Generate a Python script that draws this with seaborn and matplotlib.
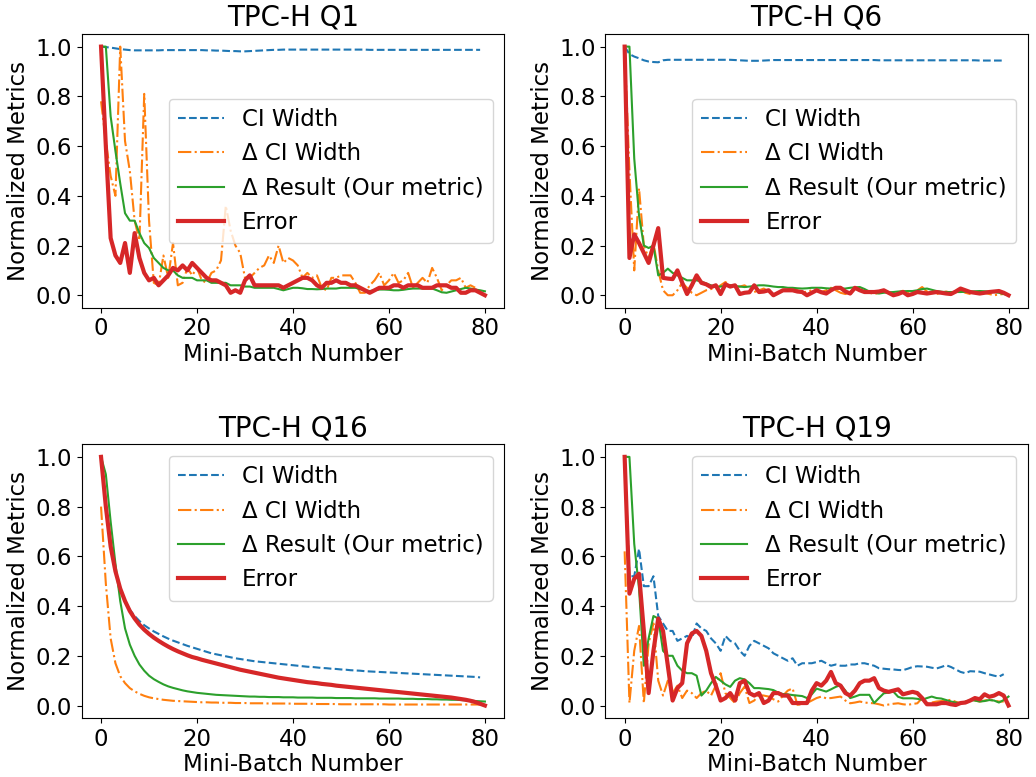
import numpy as np
import pandas as pd
import matplotlib
matplotlib.use("Agg")
import matplotlib.pyplot as plt
import seaborn as sns

# ---- data (normalized metrics per mini-batch) ----
titles = ["TPC-H Q1", "TPC-H Q6", "TPC-H Q16", "TPC-H Q19"]
labels = ["CI Width", "Δ CI Width", "Δ Result (Our metric)", "Error"]

# TPC-H Q1
q1_ci = [1.0, 0.998, 0.996, 0.993, 0.99, 0.988, 0.986, 0.985, 0.985, 0.985,
         0.985, 0.985, 0.985, 0.986, 0.986, 0.986, 0.986, 0.986, 0.986, 0.986,
         0.986, 0.986, 0.985, 0.985, 0.984, 0.984, 0.983, 0.982, 0.982, 0.981,
         0.981, 0.982, 0.983, 0.984, 0.985, 0.986, 0.987, 0.987, 0.988, 0.988,
         0.988, 0.988, 0.988, 0.988, 0.988, 0.988, 0.988, 0.988, 0.988, 0.988,
         0.988, 0.988, 0.988, 0.988, 0.988, 0.988, 0.987, 0.987, 0.987, 0.987,
         0.987, 0.987, 0.987, 0.987, 0.987, 0.987, 0.987, 0.987, 0.987, 0.987,
         0.987, 0.987, 0.987, 0.987, 0.987, 0.987, 0.987, 0.987, 0.987, 0.987]
q1_dci = [0.78, 0.62, 0.48, 0.40, 1.00, 0.62, 0.50, 0.30, 0.22, 0.81,
          0.30, 0.05, 0.04, 0.16, 0.07, 0.21, 0.04, 0.05, 0.11, 0.08,
          0.11, 0.06, 0.05, 0.09, 0.10, 0.14, 0.36, 0.26, 0.20, 0.17,
          0.07, 0.07, 0.09, 0.11, 0.12, 0.16, 0.13, 0.20, 0.13, 0.15,
          0.14, 0.12, 0.07, 0.09, 0.07, 0.08, 0.03, 0.02, 0.07, 0.07,
          0.08, 0.08, 0.08, 0.05, 0.01, 0.01, 0.04, 0.06, 0.09, 0.04,
          0.06, 0.09, 0.05, 0.06, 0.09, 0.03, 0.05, 0.07, 0.05, 0.11,
          0.07, 0.02, 0.04, 0.06, 0.06, 0.07, 0.03, 0.04, 0.03, 0.01]
q1_dres = [1.0, 1.0, 0.72, 0.58, 0.45, 0.33, 0.30, 0.30, 0.25, 0.21,
           0.19, 0.15, 0.13, 0.11, 0.10, 0.10, 0.08, 0.07, 0.07, 0.07,
           0.06, 0.06, 0.06, 0.05, 0.05, 0.05, 0.05, 0.04, 0.04, 0.04,
           0.035, 0.035, 0.03, 0.03, 0.03, 0.03, 0.03, 0.025, 0.02, 0.025,
           0.03, 0.03, 0.028, 0.025, 0.025, 0.024, 0.025, 0.027, 0.027, 0.027,
           0.03, 0.03, 0.03, 0.03, 0.025, 0.02, 0.017, 0.02, 0.023, 0.023,
           0.022, 0.02, 0.02, 0.022, 0.025, 0.027, 0.027, 0.027, 0.027, 0.027,
           0.02, 0.012, 0.01, 0.015, 0.02, 0.025, 0.03, 0.027, 0.023, 0.02,
           0.016]
q1_err = [1.0, 0.60, 0.23, 0.16, 0.13, 0.21, 0.09, 0.25, 0.15, 0.09,
          0.06, 0.07, 0.04, 0.06, 0.08, 0.11, 0.10, 0.12, 0.10, 0.13,
          0.11, 0.09, 0.07, 0.06, 0.06, 0.05, 0.04, 0.01, 0.02, 0.01,
          0.06, 0.08, 0.04, 0.04, 0.04, 0.04, 0.04, 0.04, 0.03, 0.04,
          0.05, 0.06, 0.07, 0.07, 0.06, 0.04, 0.03, 0.05, 0.05, 0.06,
          0.05, 0.05, 0.04, 0.04, 0.03, 0.02, 0.01, 0.02, 0.03, 0.03,
          0.03, 0.04, 0.04, 0.03, 0.04, 0.04, 0.04, 0.03, 0.03, 0.03,
          0.04, 0.04, 0.04, 0.03, 0.03, 0.01, 0.01, 0.02, 0.02, 0.01,
          0.0]

# TPC-H Q6
q6_ci = [1.0, 0.97, 0.96, 0.953, 0.945, 0.94, 0.938, 0.937, 0.945, 0.947,
         0.947, 0.947, 0.947, 0.947, 0.947, 0.947, 0.947, 0.947, 0.947, 0.947,
         0.947, 0.947, 0.947, 0.946, 0.945, 0.944, 0.943, 0.943, 0.943, 0.944,
         0.945, 0.946, 0.946, 0.946, 0.946, 0.946, 0.946, 0.946, 0.946, 0.946,
         0.946, 0.946, 0.946, 0.946, 0.946, 0.946, 0.946, 0.946, 0.946, 0.946,
         0.946, 0.946, 0.946, 0.945, 0.945, 0.945, 0.945, 0.945, 0.945, 0.945,
         0.945, 0.945, 0.945, 0.945, 0.945, 0.945, 0.945, 0.945, 0.945, 0.945,
         0.945, 0.945, 0.945, 0.945, 0.944, 0.944, 0.944, 0.944, 0.944, 0.944]
q6_dci = [1.0, 0.5, 0.1, 0.43, 0.2, 0.15, 0.21, 0.1, 0.02, 0.0,
          0.0, 0.02, 0.05, 0.03, 0.01, 0.0, 0.01, 0.02, 0.025, 0.027,
          0.04, 0.053, 0.04, 0.033, 0.035, 0.04, 0.025, 0.013, 0.02, 0.027,
          0.015, 0.0, 0.01, 0.02, 0.025, 0.03, 0.02, 0.01, 0.015, 0.02,
          0.018, 0.013, 0.02, 0.03, 0.02, 0.01, 0.005, 0.012, 0.03, 0.02,
          0.015, 0.01, 0.005, 0.01, 0.015, 0.01, 0.005, 0.012, 0.018, 0.01,
          0.015, 0.02, 0.033, 0.015, 0.01, 0.005, 0.01, 0.015, 0.01, 0.012,
          0.02, 0.01, 0.005, 0.01, 0.015, 0.01, 0.005, 0.0, 0.003, 0.005]
q6_dres = [1.0, 1.0, 0.55, 0.32, 0.2, 0.19, 0.2, 0.08, 0.09, 0.107,
           0.09, 0.08, 0.07, 0.06, 0.06, 0.06, 0.055, 0.047, 0.04, 0.033,
           0.035, 0.038, 0.04, 0.037, 0.035, 0.033, 0.035, 0.037, 0.04, 0.04,
           0.038, 0.035, 0.033, 0.033, 0.03, 0.03, 0.028, 0.027, 0.028, 0.03,
           0.03, 0.03, 0.028, 0.027, 0.027, 0.027, 0.027, 0.03, 0.032, 0.033,
           0.025, 0.015, 0.01, 0.007, 0.01, 0.012, 0.013, 0.015, 0.016, 0.017,
           0.017, 0.02, 0.025, 0.027, 0.022, 0.017, 0.014, 0.013, 0.013, 0.013,
           0.013, 0.014, 0.015, 0.016, 0.017, 0.016, 0.015, 0.013, 0.01, 0.005,
           0.0]
q6_err = [1.0, 0.15, 0.245, 0.21, 0.17, 0.13, 0.20, 0.27, 0.07, 0.067,
          0.065, 0.1, 0.05, 0.005, 0.04, 0.08, 0.05, 0.044, 0.033, 0.04,
          0.005, 0.044, 0.035, 0.04, 0.005, 0.01, 0.012, 0.04, 0.013, 0.015,
          0.02, 0.0, 0.01, 0.02, 0.02, 0.02, 0.015, 0.013, 0.0, 0.01,
          0.02, 0.012, 0.007, 0.02, 0.03, 0.03, 0.015, 0.007, 0.03, 0.02,
          0.013, 0.013, 0.013, 0.015, 0.02, 0.01, 0.0, 0.005, 0.013, 0.0,
          0.005, 0.013, 0.01, 0.007, 0.01, 0.013, 0.01, 0.007, 0.005, 0.015,
          0.027, 0.02, 0.013, 0.01, 0.007, 0.01, 0.013, 0.015, 0.017, 0.01,
          0.0]

# TPC-H Q16
q16_ci = [1.0, 0.80, 0.64, 0.54, 0.47, 0.42, 0.385, 0.36, 0.34, 0.323,
          0.31, 0.298, 0.288, 0.278, 0.269, 0.261, 0.254, 0.247, 0.24, 0.234,
          0.228, 0.222, 0.216, 0.21, 0.206, 0.202, 0.198, 0.194, 0.19, 0.187,
          0.184, 0.181, 0.178, 0.176, 0.174, 0.172, 0.17, 0.168, 0.166, 0.164,
          0.162, 0.16, 0.158, 0.156, 0.155, 0.153, 0.151, 0.15, 0.148, 0.147,
          0.145, 0.144, 0.142, 0.141, 0.14, 0.138, 0.137, 0.136, 0.135, 0.134,
          0.133, 0.132, 0.131, 0.13, 0.129, 0.128, 0.127, 0.126, 0.125, 0.124,
          0.123, 0.122, 0.121, 0.12, 0.119, 0.118, 0.117, 0.116, 0.115, 0.113]
q16_dci = [0.80, 0.49, 0.27, 0.17, 0.118, 0.09, 0.07, 0.057, 0.047, 0.039,
           0.033, 0.029, 0.026, 0.023, 0.021, 0.019, 0.018, 0.017, 0.016, 0.015,
           0.014, 0.013, 0.013, 0.012, 0.012, 0.011, 0.011, 0.011, 0.010, 0.010,
           0.010, 0.009, 0.009, 0.009, 0.009, 0.008, 0.008, 0.008, 0.008, 0.008,
           0.007, 0.007, 0.007, 0.007, 0.007, 0.006, 0.006, 0.006, 0.006, 0.006,
           0.005, 0.005, 0.005, 0.005, 0.005, 0.005, 0.005, 0.005, 0.005, 0.005,
           0.004, 0.004, 0.004, 0.004, 0.004, 0.004, 0.004, 0.004, 0.004, 0.004,
           0.004, 0.004, 0.004, 0.004, 0.004, 0.004, 0.004, 0.004, 0.004, 0.004]
q16_dres = [1.0, 0.93, 0.74, 0.57, 0.42, 0.31, 0.245, 0.2, 0.165, 0.14,
            0.12, 0.106, 0.095, 0.085, 0.077, 0.071, 0.066, 0.061, 0.057, 0.054,
            0.051, 0.049, 0.047, 0.045, 0.043, 0.042, 0.041, 0.04, 0.039, 0.038,
            0.037, 0.036, 0.036, 0.035, 0.035, 0.034, 0.034, 0.034, 0.033, 0.033,
            0.033, 0.032, 0.032, 0.032, 0.032, 0.031, 0.031, 0.031, 0.031, 0.030,
            0.030, 0.030, 0.030, 0.029, 0.029, 0.029, 0.029, 0.029, 0.028, 0.028,
            0.028, 0.028, 0.028, 0.027, 0.027, 0.027, 0.026, 0.026, 0.026, 0.025,
            0.025, 0.024, 0.024, 0.023, 0.023, 0.022, 0.021, 0.02, 0.018, 0.017,
            0.016]
q16_err = [1.0, 0.80, 0.64, 0.54, 0.47, 0.42, 0.38, 0.35, 0.325, 0.305,
           0.288, 0.273, 0.26, 0.248, 0.237, 0.227, 0.218, 0.21, 0.202, 0.195,
           0.19, 0.184, 0.179, 0.174, 0.169, 0.164, 0.159, 0.154, 0.149, 0.144,
           0.14, 0.136, 0.132, 0.128, 0.124, 0.12, 0.116, 0.112, 0.109, 0.106,
           0.103, 0.1, 0.097, 0.094, 0.092, 0.09, 0.087, 0.085, 0.083, 0.08,
           0.078, 0.076, 0.074, 0.072, 0.07, 0.068, 0.066, 0.064, 0.062, 0.06,
           0.058, 0.056, 0.054, 0.052, 0.05, 0.048, 0.046, 0.044, 0.042, 0.04,
           0.038, 0.036, 0.034, 0.032, 0.029, 0.026, 0.023, 0.019, 0.014, 0.007,
           0.0]

# TPC-H Q19
q19_ci = [1.0, 0.52, 0.52, 0.63, 0.48, 0.48, 0.52, 0.36, 0.33, 0.30,
          0.30, 0.26, 0.27, 0.28, 0.27, 0.33, 0.31, 0.30, 0.27, 0.25,
          0.22, 0.28, 0.26, 0.25, 0.22, 0.20, 0.24, 0.26, 0.25, 0.24,
          0.23, 0.21, 0.20, 0.19, 0.18, 0.19, 0.16, 0.17, 0.17, 0.17,
          0.175, 0.18, 0.17, 0.16, 0.165, 0.16, 0.16, 0.165, 0.165, 0.17,
          0.17, 0.165, 0.16, 0.15, 0.148, 0.146, 0.145, 0.143, 0.142, 0.148,
          0.155, 0.158, 0.157, 0.156, 0.152, 0.149, 0.155, 0.162, 0.155, 0.145,
          0.135, 0.13, 0.138, 0.137, 0.136, 0.13, 0.125, 0.12, 0.116, 0.126]
q19_dci = [0.62, 0.01, 0.22, 0.32, 0.01, 0.25, 0.33, 0.10, 0.04, 0.10,
           0.05, 0.08, 0.03, 0.06, 0.05, 0.03, 0.05, 0.06, 0.04, 0.08,
           0.13, 0.05, 0.03, 0.01, 0.05, 0.076, 0.01, 0.02, 0.043, 0.04,
           0.036, 0.025, 0.016, 0.04, 0.06, 0.069, 0.003, 0.005, 0.01, 0.02,
           0.03, 0.036, 0.029, 0.03, 0.033, 0.036, 0.02, 0.009, 0.012, 0.016,
           0.012, 0.01, 0.009, 0.005, 0.0, 0.004, 0.007, 0.009, 0.005, 0.003,
           0.006, 0.009, 0.03, 0.009, 0.012, 0.016, 0.018, 0.02, 0.023, 0.015,
           0.009, 0.015, 0.023, 0.02, 0.016, 0.02, 0.023, 0.02, 0.016, 0.016]
q19_dres = [1.0, 1.0, 0.65, 0.47, 0.16, 0.27, 0.36, 0.35, 0.22, 0.20,
            0.20, 0.16, 0.14, 0.13, 0.13, 0.12, 0.04, 0.06, 0.09, 0.115,
            0.10, 0.085, 0.075, 0.10, 0.11, 0.105, 0.09, 0.07, 0.07, 0.068,
            0.066, 0.062, 0.052, 0.046, 0.045, 0.042, 0.04, 0.038, 0.03, 0.045,
            0.068, 0.062, 0.056, 0.065, 0.075, 0.082, 0.06, 0.03, 0.036, 0.043,
            0.043, 0.043, 0.01, 0.03, 0.049, 0.052, 0.056, 0.035, 0.029, 0.029,
            0.029, 0.027, 0.023, 0.03, 0.036, 0.03, 0.028, 0.022, 0.016, 0.012,
            0.009, 0.015, 0.022, 0.02, 0.016, 0.018, 0.022, 0.02, 0.012, 0.022,
            0.036]
q19_err = [1.0, 0.45, 0.51, 0.53, 0.30, 0.05, 0.22, 0.35, 0.30, 0.16,
           0.02, 0.07, 0.09, 0.25, 0.29, 0.30, 0.28, 0.22, 0.13, 0.08,
           0.02, 0.03, 0.05, 0.02, 0.09, 0.10, 0.05, 0.04, 0.05, 0.01,
           0.02, 0.05, 0.05, 0.04, 0.04, 0.01, 0.01, 0.01, 0.01, 0.06,
           0.09, 0.08, 0.10, 0.135, 0.09, 0.08, 0.05, 0.04, 0.06, 0.09,
           0.10, 0.10, 0.11, 0.07, 0.06, 0.055, 0.06, 0.065, 0.045, 0.05,
           0.055, 0.05, 0.03, 0.005, 0.005, 0.005, 0.01, 0.01, 0.005, 0.002,
           0.01, 0.012, 0.02, 0.03, 0.025, 0.045, 0.035, 0.04, 0.05, 0.04,
           0.0]

panels = [
    (q1_ci, q1_dci, q1_dres, q1_err),
    (q6_ci, q6_dci, q6_dres, q6_err),
    (q16_ci, q16_dci, q16_dres, q16_err),
    (q19_ci, q19_dci, q19_dres, q19_err),
]
legend_loc = ["center right", "center right", "upper right", "upper right"]

styles = [
    dict(color="#1f77b4", linestyle="--", linewidth=1.5),
    dict(color="#ff7f0e", linestyle="-.", linewidth=1.5),
    dict(color="#2ca02c", linestyle="-", linewidth=1.5),
    dict(color="#d62728", linestyle="-", linewidth=3.0),
]

fig, axes = plt.subplots(2, 2, figsize=(10.36, 7.77), dpi=100)
fig.subplots_adjust(left=0.079, right=0.992, top=0.956, bottom=0.076,
                    wspace=0.24, hspace=0.50)

for ax, title, series, loc in zip(axes.flat, titles, panels, legend_loc):
    for vals, lab, st in zip(series, labels, styles):
        df = pd.DataFrame({"batch": np.arange(len(vals)), "value": vals})
        sns.lineplot(data=df, x="batch", y="value", ax=ax, label=lab, **st)
    ax.set_title(title, fontsize=20)
    ax.set_xlabel("Mini-Batch Number", fontsize=16.5, labelpad=2)
    ax.set_ylabel("Normalized Metrics", fontsize=16.5, labelpad=4)
    ax.set_xticks([0, 20, 40, 60, 80])
    ax.set_yticks([0.0, 0.2, 0.4, 0.6, 0.8, 1.0])
    ax.tick_params(labelsize=16.5)
    ax.legend(loc=loc, fontsize=16.5)

fig.savefig("out.png", dpi=100)
